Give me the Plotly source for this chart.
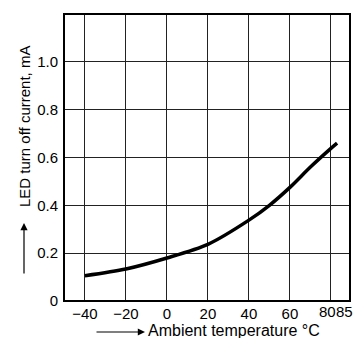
import plotly.graph_objects as go

# Data
temperature_c = [-40, -20, 0, 20, 40, 50, 60, 70, 80, 83]
led_turn_off_ma = [0.106, 0.134, 0.18, 0.237, 0.338, 0.40, 0.475, 0.56, 0.638, 0.66]

x_tick_vals = [-40, -20, 0, 20, 40, 60, 80]
x_tick_text = ["\u221240", "\u221220", "0", "20", "40", "60", ""]
y_tick_vals = [0, 0.2, 0.4, 0.6, 0.8, 1.0]
y_tick_text = ["0", "0.2", "0.4", "0.6", "0.8", "1.0"]

FONT = "Liberation Sans, Arial, sans-serif"
W, H = 353, 338
L, R, T, B = 64, 3, 14, 37
PW = W - L - R
PH = H - T - B

def px_x(px):
    return (px - L) / PW

def px_y(py):
    return (H - B - py) / PH

fig = go.Figure()
fig.add_trace(go.Scatter(
    x=temperature_c, y=led_turn_off_ma, mode="lines",
    line=dict(color="black", width=3.5, shape="spline", smoothing=0.8),
    hoverinfo="skip", showlegend=False,
))

fig.update_layout(
    width=W, height=H,
    margin=dict(l=L, r=R, t=T, b=B, pad=0, autoexpand=False),
    paper_bgcolor="white", plot_bgcolor="white",
    font=dict(family=FONT, size=15, color="black"),
    showlegend=False,
    xaxis=dict(
        range=[-50.2, 89.3], tickvals=x_tick_vals, ticktext=x_tick_text,
        showgrid=True, gridcolor="#222", gridwidth=1,
        showline=False, ticks="", zeroline=False, tickfont=dict(size=15),
        ticklabelstandoff=2, automargin=False,
    ),
    yaxis=dict(
        range=[0, 1.2], tickvals=y_tick_vals, ticktext=y_tick_text,
        showgrid=True, gridcolor="#222", gridwidth=1,
        showline=False, ticks="", zeroline=False, tickfont=dict(size=15),
        ticklabelstandoff=5, automargin=False,
    ),
    shapes=[dict(type="rect", xref="paper", yref="paper", x0=0, x1=1, y0=0, y1=1,
                 line=dict(color="black", width=2), layer="above")],
)

annotations = [
    # 80 / 85 tick labels squeezed together
    dict(x=82.4, y=px_y(311), xref="x", yref="paper", text="80", showarrow=False,
         xanchor="right", yanchor="middle", font=dict(size=15), borderpad=0, xshift=1),
    dict(x=82.4, y=px_y(311), xref="x", yref="paper", text="85", showarrow=False,
         xanchor="left", yanchor="middle", font=dict(size=15), borderpad=0, xshift=-1),
    # y title
    dict(x=px_x(24), y=px_y(127), xref="paper", yref="paper",
         text="LED turn off current, mA", textangle=-90, showarrow=False,
         xanchor="center", yanchor="middle", font=dict(size=15)),
    # y arrow
    dict(x=px_x(24), y=px_y(223), xref="paper", yref="paper", text="",
         showarrow=True, ax=0, ay=52, arrowhead=2, arrowsize=1.2,
         arrowwidth=1.2, arrowcolor="black"),
    # x title
    dict(x=px_x(147), y=px_y(330), xref="paper", yref="paper",
         text="Ambient temperature \u00b0C", showarrow=False,
         xanchor="left", yanchor="middle", font=dict(size=16), borderpad=0),
    # x arrow
    dict(x=px_x(145), y=px_y(332), xref="paper", yref="paper", text="",
         showarrow=True, ax=-50, ay=0, arrowhead=2, arrowsize=1.2,
         arrowwidth=1.2, arrowcolor="black"),
]
fig.update_layout(annotations=annotations)

fig.write_html(
    "out.html",
    config={"displayModeBar": False},
    post_script="document.body.style.margin='0';document.body.style.overflow='hidden';",
)
